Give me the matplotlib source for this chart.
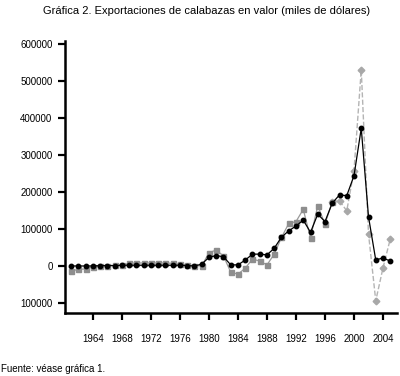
import matplotlib
matplotlib.use("Agg")
import matplotlib.pyplot as plt
from matplotlib.ticker import FuncFormatter

plt.rcParams['font.family'] = ['Liberation Sans', 'DejaVu Sans']

years = list(range(1961, 2006))

# black series (circles, solid)
serie_negra = [0, 0, 0, 0, 1000, 1000, 1000, 2000, 2000, 2000, 2000, 2000, 2000, 2000, 2000, 2000, 1000, 0,
               5000, 23500, 28000, 25000, 3000, 3000, 16000, 32000, 32000, 30000, 48000, 78000,
               95000, 108000, 124000, 91000, 140000, 120000, 170000, 192000, 190000, 244000,
               372000, 133000, 16000, 22000, 13000]

# grey series (squares) 1961-1997
years_gris = list(range(1961, 1998))
serie_gris = [-14000, -9000, -8000, -3000, -1000, 1000, 2000, 3000, 7000, 8000, 8000, 8000, 8000, 8000, 7000, 5000, 3000, 1000,
              0, 36000, 43000, 27000, -17000, -22000, -6000, 19000, 13000, 3000, 32000, 77000,
              115000, 120000, 153000, 76000, 163000, 113000, 174000]

# light grey series (diamonds, dashed) 1997-2005
years_claro = list(range(1997, 2006))
serie_claro = [174000, 176000, 149000, 258000, 530000, 87000, -94000, -5000, 73000]

fig = plt.figure(figsize=(4.0, 3.76), dpi=100)
ax = fig.add_axes([0.1625, 0.1676, 0.83, 0.7234])

ax.plot(years_claro, serie_claro, color='#b4b4b4', linestyle='--', linewidth=1.0,
        marker='D', markersize=3.4, markeredgecolor='#a8a8a8', markerfacecolor='#a8a8a8', zorder=2)
ax.plot(years_gris, serie_gris, color='#9a9a9a', linestyle='-', linewidth=0.9,
        marker='s', markersize=3.6, markeredgecolor='#8e8e8e', markerfacecolor='#8e8e8e', zorder=3)
ax.plot(years, serie_negra, color='black', linestyle='-', linewidth=0.9,
        marker='o', markersize=3.2, markeredgecolor='black', markerfacecolor='black', zorder=4)

ax.set_xlim(1960.14, 2005.93)
ax.set_ylim(-127000, 608000)

yticks = [-100000, 0, 100000, 200000, 300000, 400000, 500000, 600000]
xticks = list(range(1964, 2005, 4))
ax.set_yticks(yticks)
ax.set_xticks(xticks)
ax.yaxis.set_major_formatter(FuncFormatter(lambda v, p: f"{abs(int(round(v)))}"))

for s in ['top', 'right']:
    ax.spines[s].set_visible(False)
for s in ['left', 'bottom']:
    ax.spines[s].set_linewidth(1.8)

ax.tick_params(axis='both', direction='out', length=5, width=1.6, labelsize=7, colors='black')
ax.tick_params(axis='y', pad=4)
ax.tick_params(axis='x', pad=10)

fig.text(0.5175, 0.97, "Gráfica 2. Exportaciones de calabazas en valor (miles de dólares)",
         ha='center', va='center', fontsize=8)
fig.text(0.003, 0.019, "Fuente: véase gráfica 1.", ha='left', va='center', fontsize=7)

fig.savefig("out.png", dpi=100)
